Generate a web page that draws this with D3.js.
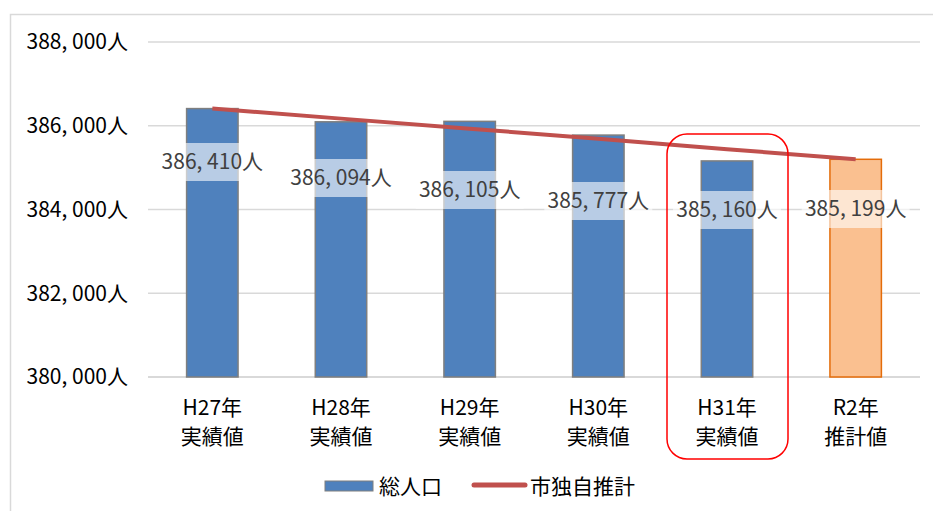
<!DOCTYPE html>
<html>
<head>
<meta charset="utf-8">
<script src="https://d3js.org/d3.v7.min.js"></script>
<style>
  body { margin: 0; background: #fff; }
  text { font-family: "Noto Sans CJK JP", "Noto Sans", sans-serif; }
</style>
</head>
<body>
<div id="chart"></div>
<script>
// data
const years = ["H27年", "H28年", "H29年", "H30年", "H31年", "R2年"];
const kinds = ["実績値", "実績値", "実績値", "実績値", "実績値", "推計値"];
const totalPop = [386410, 386094, 386105, 385777, 385160, 385199];
const cityEstimate = [386410, 386170, 385930, 385690, 385440, 385199];
const yTicks = [380000, 382000, 384000, 386000, 388000];

// layout only
const labelCenterY = [162, 178, 190, 201, 210, 209];

const width = 933, height = 511;
const margin = { left: 148, right: 13, top: 42, bottom: 134 };

const svg = d3.select("#chart").append("svg")
    .attr("width", width)
    .attr("height", height);

// chart frame
svg.append("rect")
    .attr("x", 10.5).attr("y", 14.5)
    .attr("width", 940).attr("height", 520)
    .attr("fill", "#fff")
    .attr("stroke", "#d9d9d9")
    .attr("stroke-width", 1.5);

const x = d3.scaleBand()
    .domain(years)
    .range([margin.left, width - margin.right])
    .paddingInner(0.6)
    .paddingOuter(0.3);

const y = d3.scaleLinear()
    .domain([380000, 388000])
    .range([height - margin.bottom, margin.top]);

const fmt = d => d3.format(",")(d).replace(",", ", ") + "人";

// gridlines
svg.append("g")
    .selectAll("line")
    .data(yTicks)
    .enter().append("line")
    .attr("x1", margin.left)
    .attr("x2", width - margin.right)
    .attr("y1", d => y(d))
    .attr("y2", d => y(d))
    .attr("stroke", "#d9d9d9")
    .attr("stroke-width", d => d === 380000 ? 2 : 1.5);

// y tick labels
svg.append("g")
    .selectAll("text")
    .data(yTicks)
    .enter().append("text")
    .attr("x", 128)
    .attr("y", d => y(d))
    .attr("dy", "0.35em")
    .attr("text-anchor", "end")
    .attr("font-size", 21)
    .attr("fill", "#000")
    .text(d => fmt(d));

// bars
svg.append("g")
    .selectAll("rect")
    .data(totalPop)
    .enter().append("rect")
    .attr("x", (d, i) => x(years[i]))
    .attr("y", d => y(d))
    .attr("width", x.bandwidth())
    .attr("height", d => y(380000) - y(d))
    .attr("fill", (d, i) => i === years.length - 1 ? "#fac090" : "#4f81bd")
    .attr("stroke", (d, i) => i === years.length - 1 ? "#e46c0a" : "#7f7f7f")
    .attr("stroke-width", 1.5);

// data labels with translucent boxes
const labels = svg.append("g")
    .selectAll("g")
    .data(totalPop)
    .enter().append("g")
    .attr("transform", (d, i) => `translate(${x(years[i]) + x.bandwidth() / 2},${labelCenterY[i]})`);

labels.append("rect")
    .attr("x", -54)
    .attr("y", -19)
    .attr("width", 108)
    .attr("height", 38)
    .attr("fill", "#fff")
    .attr("fill-opacity", 0.6);

labels.append("text")
    .attr("text-anchor", "middle")
    .attr("dy", "0.35em")
    .attr("font-size", 21)
    .attr("fill", "#404040")
    .text(d => fmt(d));

// estimate line
const line = d3.line()
    .x((d, i) => x(years[i]) + x.bandwidth() / 2)
    .y(d => y(d));

svg.append("path")
    .datum(cityEstimate)
    .attr("d", line)
    .attr("fill", "none")
    .attr("stroke", "#c0504d")
    .attr("stroke-width", 4);

// category labels
const cat = svg.append("g")
    .selectAll("text")
    .data(years)
    .enter().append("text")
    .attr("text-anchor", "middle")
    .attr("font-size", 21)
    .attr("fill", "#000");

cat.append("tspan")
    .attr("x", d => x(d) + x.bandwidth() / 2)
    .attr("y", 415)
    .text(d => d);

cat.append("tspan")
    .attr("x", d => x(d) + x.bandwidth() / 2)
    .attr("y", 444)
    .text((d, i) => kinds[i]);

// highlight box around H31
const hx = x("H31年") + x.bandwidth() / 2;
svg.append("rect")
    .attr("x", hx - 60)
    .attr("y", 134)
    .attr("width", 121)
    .attr("height", 325)
    .attr("rx", 20)
    .attr("fill", "none")
    .attr("stroke", "#ff0000")
    .attr("stroke-width", 1.5);

// legend
const legend = svg.append("g");
legend.append("rect")
    .attr("x", 325).attr("y", 481)
    .attr("width", 48).attr("height", 10)
    .attr("fill", "#4f81bd")
    .attr("stroke", "#7f7f7f")
    .attr("stroke-width", 1);
legend.append("text")
    .attr("x", 379).attr("y", 487)
    .attr("dy", "0.35em")
    .attr("font-size", 21)
    .text("総人口");
legend.append("line")
    .attr("x1", 474).attr("x2", 525)
    .attr("y1", 485).attr("y2", 485)
    .attr("stroke", "#c0504d")
    .attr("stroke-width", 5)
    .attr("stroke-linecap", "round");
legend.append("text")
    .attr("x", 530).attr("y", 487)
    .attr("dy", "0.35em")
    .attr("font-size", 21)
    .text("市独自推計");
</script>
</body>
</html>
